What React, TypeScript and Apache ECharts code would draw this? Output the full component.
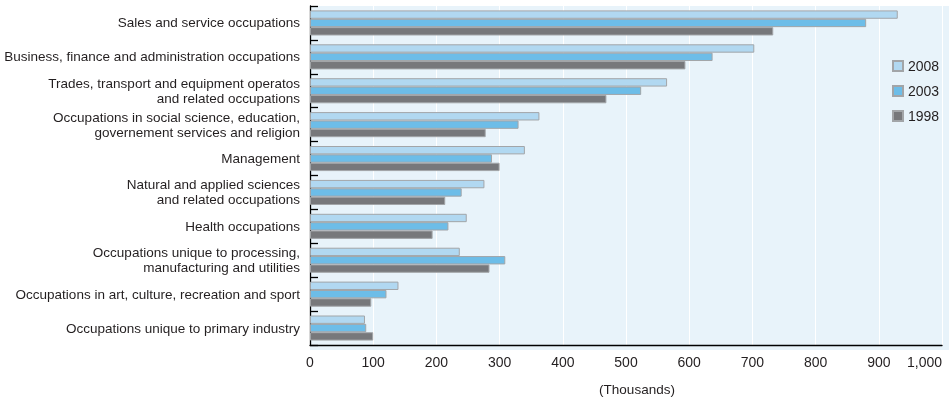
import React, { useEffect, useRef } from "react";
import * as echarts from "echarts";

const categories: string[] = [
  "Sales and service occupations",
  "Business, finance and administration occupations",
  "Trades, transport and equipment operatos\nand related occupations",
  "Occupations in social science, education,\ngovernement services and religion",
  "Management",
  "Natural and applied sciences\nand related occupations",
  "Health occupations",
  "Occupations unique to processing,\nmanufacturing and utilities",
  "Occupations in art, culture, recreation and sport",
  "Occupations unique to primary industry",
];

const values2008: number[] = [930, 703, 565, 363, 340, 276, 248, 237, 140, 87];
const values2003: number[] = [880, 637, 524, 330, 288, 240, 219, 309, 121, 89];
const values1998: number[] = [733, 594, 469, 278, 300, 214, 194, 284, 97, 100];

const seriesNames: string[] = ["2008", "2003", "1998"];
const axisTitle = "(Thousands)";

const FONT = "'Liberation Sans', Arial, sans-serif";
const TEXT = "#231f20";

export default function App() {
  const ref = useRef<HTMLDivElement>(null);
  useEffect(() => {
    if (!ref.current) return;
    const chart = echarts.init(ref.current, null, { renderer: "svg" });
    const colors = ["#b1d8f1", "#6dbde8", "#77787b"];
    const data = [values2008, values2003, values1998];
    chart.setOption({
      animation: false,
      textStyle: { fontFamily: FONT, color: TEXT },
      grid: { left: 310, right: 7, top: 6, bottom: 51, containLabel: false },
      graphic: [
        {
          type: "rect",
          z: -10,
          silent: true,
          shape: { x: 310, y: 6, width: 639, height: 344 },
          style: { fill: "#e8f3fa" },
        },
      ],
      legend: {
        orient: "vertical",
        left: 892,
        top: 59,
        padding: 0,
        itemWidth: 10,
        itemHeight: 10,
        itemGap: 11,
        icon: "rect",
        textStyle: { fontFamily: FONT, fontSize: 14, color: TEXT, lineHeight: 14 },
        data: seriesNames,
      },
      xAxis: {
        type: "value",
        min: 0,
        max: 1000,
        interval: 100,
        name: axisTitle,
        nameLocation: "middle",
        nameGap: 37,
        nameTextStyle: { fontFamily: FONT, fontSize: 13.5, color: TEXT, padding: [0, 0, 0, 22] },
        axisLine: { show: true, lineStyle: { color: "#000", width: 1.3 } },
        axisTick: { show: false },
        splitLine: { show: true, lineStyle: { color: "#ffffff", width: 1 } },
        axisLabel: {
          fontFamily: FONT,
          fontSize: 14,
          color: TEXT,
          margin: 10,
          alignMaxLabel: "right",
          formatter: (v: number) => v.toLocaleString("en-US"),
        },
      },
      yAxis: {
        type: "category",
        inverse: true,
        data: categories,
        axisLine: { show: true, lineStyle: { color: "#000", width: 1.3 } },
        axisTick: { show: true, inside: true, length: 8, lineStyle: { color: "#000", width: 1.3 } },
        splitLine: { show: false },
        axisLabel: {
          fontFamily: FONT,
          fontSize: 13.5,
          color: TEXT,
          margin: 10,
          lineHeight: 15,
          align: "right",
        },
      },
      series: seriesNames.map((name, i) => ({
        name,
        type: "bar",
        data: data[i],
        barGap: "0%",
        barCategoryGap: "26%",
        itemStyle: { color: colors[i], borderColor: "#a2a5a8", borderWidth: 1 },
      })),
    });
    return () => chart.dispose();
  }, []);
  return (
    <div
      ref={ref}
      style={{ position: "fixed", left: 0, top: 0, width: 949, height: 401 }}
    />
  );
}
